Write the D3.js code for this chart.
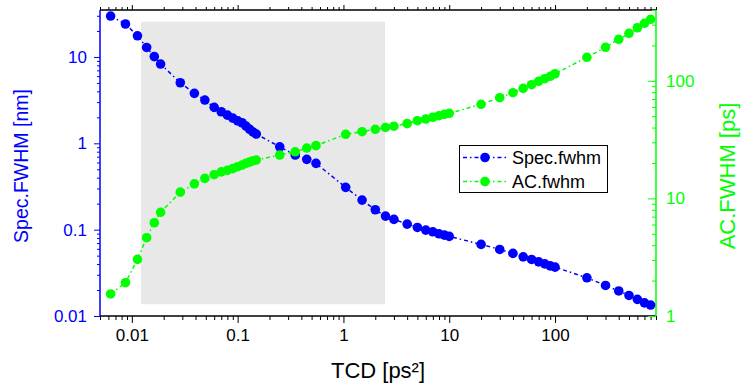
<!DOCTYPE html>
<html><head><meta charset="utf-8">
<script src="https://cdn.jsdelivr.net/npm/d3@7"></script>
<style>body{margin:0;background:#fff;} svg{display:block;font-family:"Liberation Sans",Arial,sans-serif;}</style>
</head><body>
<script>
const tcd = [0.0063, 0.0087, 0.0113, 0.0138, 0.0163, 0.0187, 0.0287, 0.039, 0.049, 0.06, 0.07, 0.08, 0.09, 0.1, 0.11, 0.12, 0.13, 0.14, 0.15, 0.25, 0.35, 0.45, 0.55, 1.05, 1.5, 2, 2.5, 3, 4, 5, 6, 7, 8, 9, 10, 20, 30, 40, 50, 60, 70, 80, 90, 100, 200, 300, 400, 500, 600, 700, 800];
const specFwhm = [29.8, 24.1, 17.6, 12.9, 10.1, 8.28, 5.03, 3.79, 3.17, 2.61, 2.32, 2.12, 1.96, 1.82, 1.73, 1.58, 1.45, 1.35, 1.28, 0.912, 0.731, 0.652, 0.586, 0.309, 0.22, 0.17, 0.1436, 0.1315, 0.116, 0.106, 0.0988, 0.0944, 0.0895, 0.0865, 0.0836, 0.0675, 0.059, 0.0531, 0.0484, 0.0452, 0.0424, 0.0402, 0.0381, 0.0368, 0.0277, 0.0226, 0.0195, 0.0173, 0.0156, 0.0142, 0.0134];
const acFwhm = [1.54, 1.92, 3.03, 4.63, 6.21, 7.62, 11.3, 13.3, 14.8, 15.9, 16.8, 17.3, 17.9, 18.6, 19.2, 19.9, 20.4, 20.9, 21.2, 23.4, 24.9, 26.8, 28.1, 35.1, 36.9, 38.7, 40.1, 41.1, 43.2, 45.8, 47.3, 49, 50.5, 51.9, 52.9, 63.1, 71.8, 79.2, 86.3, 92.6, 99, 104.2, 109.2, 114.8, 158.5, 192.8, 225.4, 253.5, 282.6, 308.3, 333.4];
const xTickLabels = ["0.01", "0.1", "1", "10", "100"];
const yLeftTickLabels = ["0.01", "0.1", "1", "10"];
const yRightTickLabels = ["1", "10", "100"];
const shadeX = [0.0122, 2.47];
const shadeY = [0.0137, 25.6];
const seriesNames = ["Spec.fwhm", "AC.fwhm"];

const W = 743, H = 387;
const L = 100, R = 656, T = 10, B = 316;
const BLUE = "#0000ff", GREEN = "#00ff00";
const svg = d3.select("body").append("svg").attr("width", W).attr("height", H);

const x = d3.scaleLog().domain([0.005, 900]).range([L, R]);
const yL = d3.scaleLog().domain([0.01, 35]).range([B, T]);
const yR = d3.scaleLog().domain([1, 400]).range([B, T]);

function minors(lo, hi, dom) {
  const out = [];
  for (let e = lo; e <= hi; e++) for (let m = 2; m <= 9; m++) {
    const v = m * Math.pow(10, e);
    if (v >= dom[0] && v <= dom[1]) out.push(v);
  }
  return out;
}
const xMajor = xTickLabels.map(Number), xMinor = minors(-3, 2, x.domain());
const lMajor = yLeftTickLabels.map(Number), lMinor = minors(-2, 1, yL.domain());
const rMajor = yRightTickLabels.map(Number), rMinor = minors(0, 2, yR.domain());

// shaded region
svg.append("rect")
  .attr("x", x(shadeX[0])).attr("y", yL(shadeY[1]))
  .attr("width", x(shadeX[1]) - x(shadeX[0]))
  .attr("height", yL(shadeY[0]) - yL(shadeY[1]))
  .attr("fill", "#e8e8e8");

function styleAxis(g, color, size) {
  g.select(".domain").remove();
  g.selectAll("line").attr("stroke", color).attr("stroke-width", 1);
  g.selectAll("text").attr("fill", color).attr("font-size", size).attr("font-family", "Liberation Sans, Arial, sans-serif");
}
const TS = 17;

// bottom axis
const gb = svg.append("g").attr("transform", `translate(0,${B})`);
gb.append("g").call(d3.axisBottom(x).tickValues(xMinor).tickSize(4).tickFormat("")).call(g => styleAxis(g, "#000", TS));
gb.append("g").call(d3.axisBottom(x).tickValues(xMajor).tickSize(7).tickPadding(6).tickFormat((d, i) => xTickLabels[i])).call(g => styleAxis(g, "#000", TS));
gb.append("line").attr("x1", L).attr("x2", R).attr("stroke", "#000").attr("stroke-width", 1.5);

// top axis (mirror, no labels)
const gt = svg.append("g").attr("transform", `translate(0,${T})`);
gt.append("g").call(d3.axisTop(x).tickValues(xMinor).tickSize(3).tickFormat("")).call(g => styleAxis(g, "#000", TS));
gt.append("g").call(d3.axisTop(x).tickValues(xMajor).tickSize(5).tickFormat("")).call(g => styleAxis(g, "#000", TS));
gt.append("line").attr("x1", L).attr("x2", R).attr("stroke", "#000").attr("stroke-width", 1.5);

// left axis
const gl = svg.append("g").attr("transform", `translate(${L},0)`);
gl.append("g").call(d3.axisLeft(yL).tickValues(lMinor).tickSize(3).tickFormat("")).call(g => styleAxis(g, BLUE, TS));
gl.append("g").call(d3.axisLeft(yL).tickValues(lMajor).tickSize(6).tickPadding(7).tickFormat((d, i) => yLeftTickLabels[i])).call(g => styleAxis(g, BLUE, TS));
gl.append("line").attr("y1", T).attr("y2", B).attr("stroke", BLUE).attr("stroke-width", 1.5);

// right axis (ticks inward)
const gr = svg.append("g").attr("transform", `translate(${R},0)`);
gr.append("g").call(d3.axisRight(yR).tickValues(rMinor).tickSize(-4).tickFormat("")).call(g => styleAxis(g, GREEN, TS));
gr.append("g").call(d3.axisRight(yR).tickValues(rMajor).tickSize(-8).tickPadding(10).tickFormat((d, i) => yRightTickLabels[i])).call(g => styleAxis(g, GREEN, TS));
gr.append("line").attr("y1", T).attr("y2", B).attr("stroke", GREEN).attr("stroke-width", 1.5);

// axis titles
svg.append("text").attr("x", 378).attr("y", 378).attr("text-anchor", "middle")
  .attr("font-size", 22).attr("fill", "#000").text("TCD [ps²]");
svg.append("text").attr("transform", `translate(28,166) rotate(-90)`).attr("text-anchor", "middle")
  .attr("font-size", 19.5).attr("fill", BLUE).text("Spec.FWHM [nm]");
svg.append("text").attr("transform", `translate(735,176) rotate(-90)`).attr("text-anchor", "middle")
  .attr("font-size", 22).attr("fill", GREEN).text("AC.FWHM [ps]");

const DASH = "4,3,1.5,3";
function drawSeries(vals, yScale, color) {
  const data = tcd.map((t, i) => [t, vals[i]]);
  svg.append("path").datum(data)
    .attr("d", d3.line().x(d => x(d[0])).y(d => yScale(d[1])))
    .attr("fill", "none").attr("stroke", color).attr("stroke-width", 1.5).attr("stroke-dasharray", DASH);
  svg.append("g").selectAll("circle").data(data).join("circle")
    .attr("cx", d => x(d[0])).attr("cy", d => yScale(d[1])).attr("r", 4.8).attr("fill", color);
}
drawSeries(specFwhm, yL, BLUE);
drawSeries(acFwhm, yR, GREEN);

// legend
const lg = svg.append("g");
lg.append("rect").attr("x", 459.5).attr("y", 145.5).attr("width", 148).attr("height", 47)
  .attr("fill", "#fff").attr("stroke", "#000").attr("stroke-width", 1);
[[BLUE, 157.5], [GREEN, 181.5]].forEach(([c, yy], i) => {
  lg.append("line").attr("x1", 463).attr("x2", 507).attr("y1", yy).attr("y2", yy)
    .attr("stroke", c).attr("stroke-width", 1.5).attr("stroke-dasharray", DASH);
  lg.append("circle").attr("cx", 485).attr("cy", yy).attr("r", 4.8).attr("fill", c);
  lg.append("text").attr("x", 512).attr("y", yy + 6.5).attr("font-size", 18).attr("fill", "#000").text(seriesNames[i]);
});
</script>
</body></html>
